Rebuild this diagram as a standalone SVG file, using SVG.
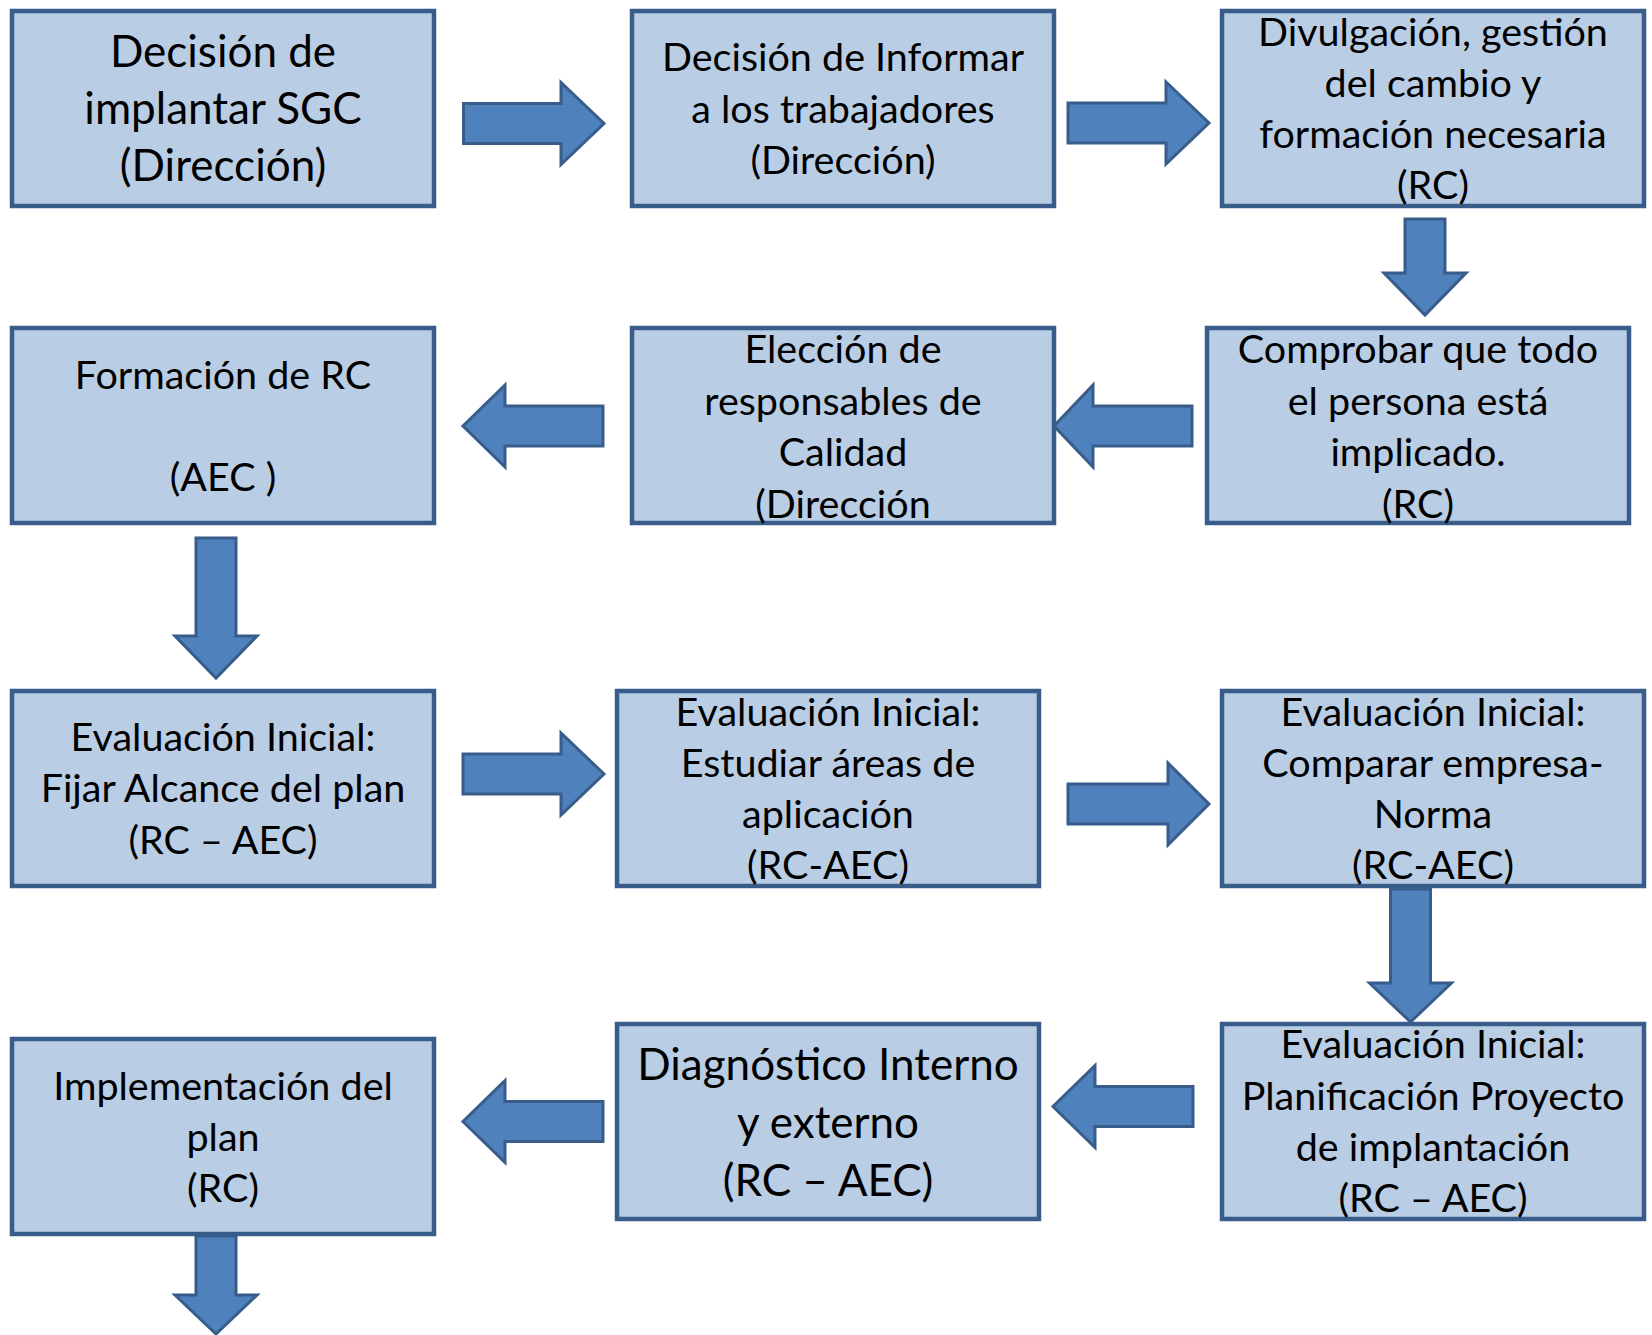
<svg xmlns="http://www.w3.org/2000/svg" width="1652" height="1335" viewBox="0 0 1652 1335">
<style>
.box{fill:#B9CDE5;stroke:#385D8A;stroke-width:4.5}
.arr{fill:#4F81BD;stroke:#385D8A;stroke-width:3;stroke-linejoin:miter}
text{font-family:Lato,"Liberation Sans",sans-serif;fill:#000;text-anchor:middle}
.t42{font-size:39.5px}
.t47{font-size:44px}
</style>
<rect width="1652" height="1335" fill="#fff"/>
<g id="nodes">
<g id="n1"><rect class="box" x="12" y="11" width="422" height="195"/>
<text class="t47"><tspan x="223" y="66.5">Decisión de</tspan><tspan x="223" y="123.5">implantar SGC</tspan><tspan x="223" y="180.5">(Dirección)</tspan></text></g>
<g id="n2"><rect class="box" x="632" y="11" width="422" height="195"/>
<text class="t42"><tspan x="843" y="71">Decisión de Informar</tspan><tspan x="843" y="122.5">a los trabajadores</tspan><tspan x="843" y="174">(Dirección)</tspan></text></g>
<g id="n3"><rect class="box" x="1222" y="11" width="422" height="195"/>
<text class="t42"><tspan x="1433" y="46">Divulgación, gestión</tspan><tspan x="1433" y="97">del cambio y</tspan><tspan x="1433" y="148">formación necesaria</tspan><tspan x="1433" y="199">(RC)</tspan></text></g>
<g id="n4"><rect class="box" x="1207" y="328" width="422" height="195"/>
<text class="t42"><tspan x="1418" y="363">Comprobar que todo</tspan><tspan x="1418" y="414.5">el persona está</tspan><tspan x="1418" y="466">implicado.</tspan><tspan x="1418" y="517.5">(RC)</tspan></text></g>
<g id="n5"><rect class="box" x="632" y="328" width="422" height="195"/>
<text class="t42"><tspan x="843" y="363">Elección de</tspan><tspan x="843" y="414.5">responsables de</tspan><tspan x="843" y="466">Calidad</tspan><tspan x="843" y="517.5">(Dirección</tspan></text></g>
<g id="n6"><rect class="box" x="12" y="328" width="422" height="195"/>
<text class="t42"><tspan x="223" y="389">Formación de RC</tspan><tspan x="223" y="491">(AEC )</tspan></text></g>
<g id="n7"><rect class="box" x="12" y="691" width="422" height="195"/>
<text class="t42"><tspan x="223" y="751">Evaluación Inicial:</tspan><tspan x="223" y="802">Fijar Alcance del plan</tspan><tspan x="223" y="853.5">(RC – AEC)</tspan></text></g>
<g id="n8"><rect class="box" x="617" y="691" width="422" height="195"/>
<text class="t42"><tspan x="828" y="726">Evaluación Inicial:</tspan><tspan x="828" y="777">Estudiar áreas de</tspan><tspan x="828" y="828">aplicación</tspan><tspan x="828" y="879">(RC-AEC)</tspan></text></g>
<g id="n9"><rect class="box" x="1222" y="691" width="422" height="195"/>
<text class="t42"><tspan x="1433" y="726">Evaluación Inicial:</tspan><tspan x="1433" y="777">Comparar empresa-</tspan><tspan x="1433" y="828">Norma</tspan><tspan x="1433" y="879">(RC-AEC)</tspan></text></g>
<g id="n10"><rect class="box" x="1222" y="1024" width="422" height="195"/>
<text class="t42"><tspan x="1433" y="1058">Evaluación Inicial:</tspan><tspan x="1433" y="1109.5">Planificación Proyecto</tspan><tspan x="1433" y="1161">de implantación</tspan><tspan x="1433" y="1212">(RC – AEC)</tspan></text></g>
<g id="n11"><rect class="box" x="617" y="1024" width="422" height="195"/>
<text class="t47"><tspan x="828" y="1079.5">Diagnóstico Interno</tspan><tspan x="828" y="1138">y externo</tspan><tspan x="828" y="1196">(RC – AEC)</tspan></text></g>
<g id="n12"><rect class="box" x="12" y="1039" width="422" height="195"/>
<text class="t42"><tspan x="223" y="1100">Implementación del</tspan><tspan x="223" y="1151">plan</tspan><tspan x="223" y="1202">(RC)</tspan></text></g>
</g>
<g id="connectors">
<polygon class="arr" points="463.5,103.5 561,103.5 561,82.5 604,123.5 561,164.5 561,143.5 463.5,143.5"/>
<polygon class="arr" points="1068,103 1166,103 1166,82 1209,123 1166,164 1166,143 1068,143"/>
<polygon class="arr" points="1405,219 1445,219 1445,273 1466,273 1425,315 1384,273 1405,273"/>
<polygon class="arr" points="1192,406 1093,406 1093,385 1054,426 1093,467 1093,446 1192,446"/>
<polygon class="arr" points="603,406 505,406 505,385 463,426 505,467 505,446 603,446"/>
<polygon class="arr" points="196,538 236,538 236,636 257,636 216,678 175,636 196,636"/>
<polygon class="arr" points="463,754 561,754 561,733 604,774 561,815 561,794 463,794"/>
<polygon class="arr" points="1068,784 1168,784 1168,763 1209,804 1168,845 1168,824 1068,824"/>
<polygon class="arr" points="1390.5,889 1430.5,889 1430.5,983 1451.5,983 1410.5,1022 1369.5,983 1390.5,983"/>
<polygon class="arr" points="1193,1086.5 1095,1086.5 1095,1065.5 1053,1106.5 1095,1147.5 1095,1126.5 1193,1126.5"/>
<polygon class="arr" points="603,1101.5 505,1101.5 505,1080.5 463,1121.5 505,1162.5 505,1141.5 603,1141.5"/>
<polygon class="arr" points="196,1236 236,1236 236,1295 257,1295 216,1334 175,1295 196,1295"/>
</g>
</svg>
